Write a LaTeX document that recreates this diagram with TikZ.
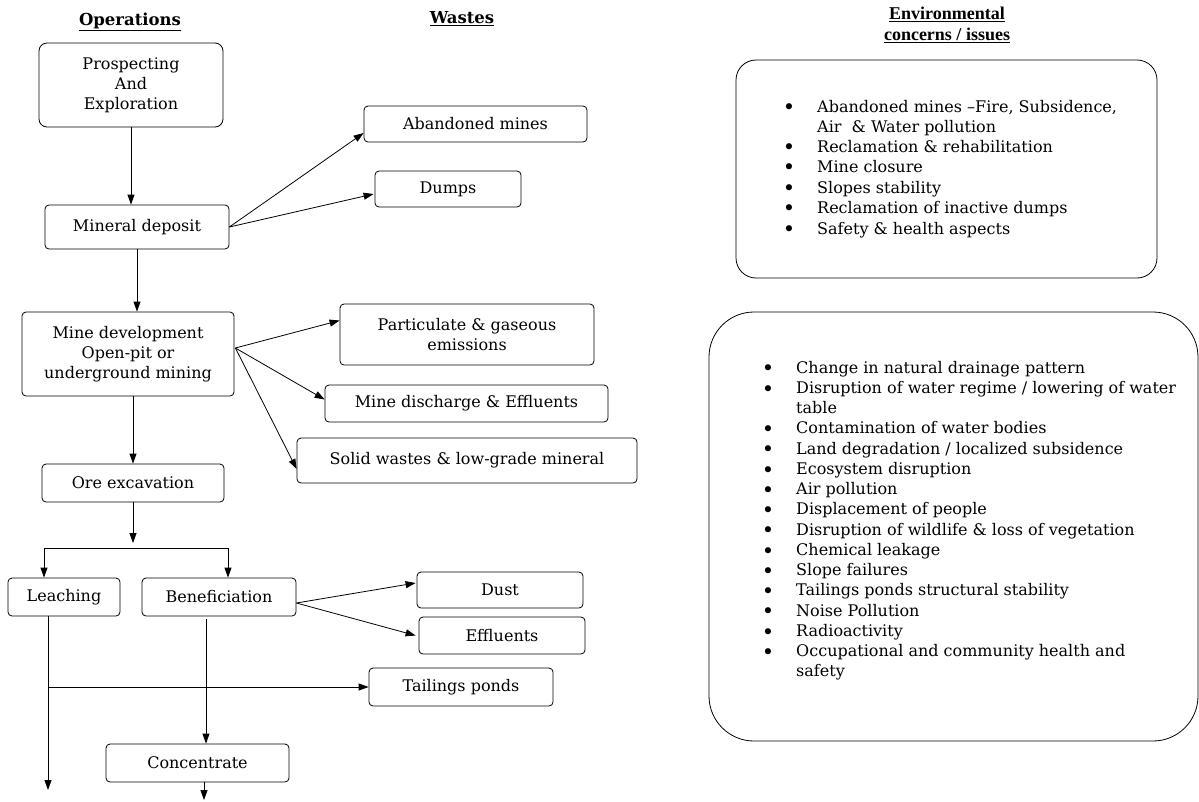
\documentclass[tikz,border=0pt]{standalone}
\usepackage{fontspec}
\setmainfont{DejaVu Serif}
\newfontfamily\envfont{Liberation Serif}
\usetikzlibrary{arrows.meta,calc}
\begin{document}
\begin{tikzpicture}[x=1pt,y=-1pt,
  txt/.style={font=\fontsize{16}{20}\selectfont},
  box/.style={draw, line width=0.8pt, rounded corners=4pt, align=center, inner sep=0pt, txt},
  arr/.style={line width=0.8pt, -{Triangle[length=10pt,width=7pt]}},
  ln/.style={anchor=west, inner sep=0pt, text height=12pt, text depth=4pt, txt},
  bul/.style={anchor=center, inner sep=0pt, yshift=-2.5pt, font=\fontsize{21}{20}\selectfont},
  hdr/.style={font=\bfseries\fontsize{16.5}{20}\selectfont, inner sep=0pt},
  bigbox/.style={draw, line width=0.8pt, inner sep=0pt}
]
\useasboundingbox (0,0) rectangle (1199,801);

% headers
\node[hdr] (hop) at (130,22) {\underline{Operations}};
\node[hdr] (hwa) at (462,19) {\underline{Wastes}};
\node[inner sep=0pt, align=center, font=\envfont\bfseries\fontsize{18}{21}\selectfont] (hen) at (947,25) {\underline{Environmental}\\\underline{concerns / issues}};

% operations column
\node[box, rounded corners=8pt, minimum width=184pt, minimum height=84pt] (pros) at (131,85) {Prospecting\\And\\Exploration};
\node[box, minimum width=184pt, minimum height=44pt] (mindep) at (137,227) {Mineral deposit};
\node[box, minimum width=212pt, minimum height=84pt] (minedev) at (128,354) {Mine development\\Open-pit or\\underground mining};
\node[box, minimum width=182pt, minimum height=38pt] (ore) at (133,483) {Ore excavation};
\node[box, minimum width=112pt, minimum height=38pt] (leach) at (64,597) {Leaching};
\node[box, minimum width=154pt, minimum height=38pt] (benef) at (219,597) {Beneficiation};
\node[box, minimum width=183pt, minimum height=38pt] (conc) at (197.5,763) {Concentrate};

% wastes column
\node[box, minimum width=223pt, minimum height=36pt] (aband) at (475.5,124) {Abandoned mines};
\node[box, minimum width=146pt, minimum height=36pt] (dumps) at (448,189) {Dumps};
\node[box, minimum width=254pt, minimum height=61pt] (partic) at (467,334.5) {Particulate \& gaseous\\emissions};
\node[box, minimum width=283pt, minimum height=37pt] (disch) at (466.5,403.5) {Mine discharge \& Effluents};
\node[box, minimum width=340pt, minimum height=45pt] (solid) at (467,460.5) {Solid wastes \& low-grade mineral};
\node[box, minimum width=166pt, minimum height=36pt] (dust) at (500,590) {Dust};
\node[box, minimum width=166pt, minimum height=37pt] (effl) at (502,635.5) {Effluents};
\node[box, minimum width=184pt, minimum height=38pt] (tail) at (461,687) {Tailings ponds};

% auxiliary coordinates
\coordinate (splitT) at (133,543);
\coordinate (splitL) at (44,548);
\coordinate (splitR) at (228,548);
\coordinate (lj) at (48,687);
\coordinate (leachEnd) at (48,790);
\coordinate (bx) at (206,619);
\coordinate (concEnd) at (204,800);

% connectors
\draw[arr] (pros.south) -- (pros.south |- mindep.north);
\draw[arr] (mindep.east) -- ($(aband.west)+(0,9)$);
\draw[arr] (mindep.east) -- ($(dumps.west)+(-1,5)$);
\draw[arr] (mindep.south) -- (mindep.south |- minedev.north);
\draw[arr] ($(minedev.east)+(1,-6)$) -- ($(partic.west)+(0,-14)$);
\draw[arr] ($(minedev.east)+(1,-6)$) -- ($(disch.west)+(0,-4)$);
\draw[arr] ($(minedev.east)+(1,-6)$) -- ($(solid.west)+(0,8.5)$);
\draw[arr] (ore.north |- minedev.south) -- (ore.north);
\draw[arr] (ore.south) -- (splitT);
\draw[line width=0.8pt] (splitL) -- (splitR);
\draw[arr] (splitL) -- (splitL |- leach.north);
\draw[arr] (splitR) -- (splitR |- benef.north);
\draw[arr] (leach.south -| lj) -- (leachEnd);
\draw[arr] (lj) -- (tail.west);
\draw[arr] (bx) -- (bx |- conc.north);
\draw[arr] (conc.south -| concEnd) -- (concEnd);
\draw[arr] ($(benef.east)+(0,6)$) -- ($(dust.west)+(-1,-7)$);
\draw[arr] ($(benef.east)+(0,6)$) -- ($(effl.west)+(-3,0)$);

% environmental boxes
\node[bigbox, rounded corners=20pt, minimum width=421pt, minimum height=218pt] (env1) at (946.5,169) {};
\node[bigbox, rounded corners=45pt, minimum width=489pt, minimum height=429pt] (env2) at (953.5,526.5) {};

% top box list
\node[bul] (t1b) at (789,107) {•};
\node[ln] (t1) at (817,108) {Abandoned mines –Fire, Subsidence,};
\node[ln] (t1c) at (817,128) {Air \ \& Water pollution};
\node[bul] (t2b) at (789,147) {•};
\node[ln] (t2) at (817,148) {Reclamation \& rehabilitation};
\node[bul] (t3b) at (789,167) {•};
\node[ln] (t3) at (817,168) {Mine closure};
\node[bul] (t4b) at (789,188) {•};
\node[ln] (t4) at (817,189) {Slopes stability};
\node[bul] (t5b) at (789,208) {•};
\node[ln] (t5) at (817,209) {Reclamation of inactive dumps};
\node[bul] (t6b) at (789,229) {•};
\node[ln] (t6) at (817,230) {Safety \& health aspects};

% bottom box list
\node[bul] (u1b) at (768,368) {•};
\node[ln] (u1) at (796,369) {Change in natural drainage pattern};
\node[bul] (u2b) at (768,388.25) {•};
\node[ln] (u2) at (796,389.25) {Disruption of water regime / lowering of water};
\node[ln] (u2c) at (796,409.5) {table};
\node[bul] (u3b) at (768,428.75) {•};
\node[ln] (u3) at (796,429.75) {Contamination of water bodies};
\node[bul] (u4b) at (768,449) {•};
\node[ln] (u4) at (796,450) {Land degradation / localized subsidence};
\node[bul] (u5b) at (768,469.25) {•};
\node[ln] (u5) at (796,470.25) {Ecosystem disruption};
\node[bul] (u6b) at (768,489.5) {•};
\node[ln] (u6) at (796,490.5) {Air pollution};
\node[bul] (u7b) at (768,509.75) {•};
\node[ln] (u7) at (796,510.75) {Displacement of people};
\node[bul] (u8b) at (768,530) {•};
\node[ln] (u8) at (796,531) {Disruption of wildlife \& loss of vegetation};
\node[bul] (u9b) at (768,550.25) {•};
\node[ln] (u9) at (796,551.25) {Chemical leakage};
\node[bul] (u10b) at (768,570.5) {•};
\node[ln] (u10) at (796,571.5) {Slope failures};
\node[bul] (u11b) at (768,590.75) {•};
\node[ln] (u11) at (796,591.75) {Tailings ponds structural stability};
\node[bul] (u12b) at (768,611) {•};
\node[ln] (u12) at (796,612) {Noise Pollution};
\node[bul] (u13b) at (768,631.25) {•};
\node[ln] (u13) at (796,632.25) {Radioactivity};
\node[bul] (u14b) at (768,651.5) {•};
\node[ln] (u14) at (796,652.5) {Occupational and community health and};
\node[ln] (u14c) at (796,672.75) {safety};
\end{tikzpicture}
\end{document}
